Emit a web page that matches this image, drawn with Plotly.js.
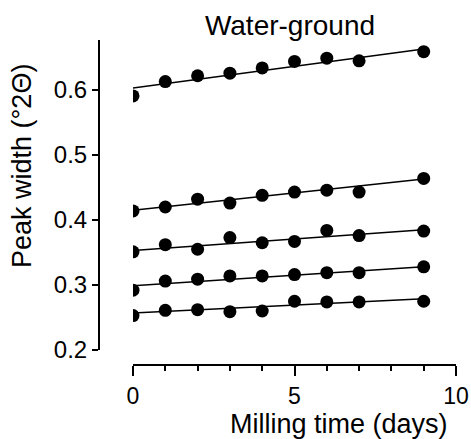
<!DOCTYPE html>
<html>
<head>
<meta charset="utf-8">
<script src="https://cdn.plot.ly/plotly-3.0.1.min.js"></script>
<style>html,body{margin:0;padding:0;background:#fff;}#chart{width:471px;height:439px;}</style>
</head>
<body>
<div id="chart"></div>
<script>
const days = [0, 1, 2, 3, 4, 5, 6, 7, 9];
const series1 = [0.591, 0.613, 0.622, 0.626, 0.634, 0.644, 0.649, 0.645, 0.659];
const series2 = [0.414, 0.420, 0.432, 0.426, 0.438, 0.443, 0.446, 0.443, 0.464];
const series3 = [0.351, 0.362, 0.355, 0.373, 0.365, 0.367, 0.384, 0.376, 0.383];
const series4 = [0.292, 0.306, 0.309, 0.314, 0.314, 0.316, 0.319, 0.319, 0.328];
const series5 = [0.253, 0.261, 0.262, 0.259, 0.260, 0.275, 0.274, 0.274, 0.275];
const fitX = [0, 9];
const fit1 = [0.603, 0.663];
const fit2 = [0.415, 0.463];
const fit3 = [0.353, 0.385];
const fit4 = [0.299, 0.328];
const fit5 = [0.257, 0.279];
const yTicks = [0.2, 0.3, 0.4, 0.5, 0.6];
const yTickText = ['0.2', '0.3', '0.4', '0.5', '0.6'];
const xTicks = [0, 5, 10];
const xTickText = ['0', '5', '10'];

const allSeries = [series1, series2, series3, series4, series5];
const allFits = [fit1, fit2, fit3, fit4, fit5];
const traces = [];
allFits.forEach(f => traces.push({x: fitX, y: f, mode: 'lines', line: {color: '#000', width: 1.5}, hoverinfo: 'skip'}));
allSeries.forEach(s => traces.push({x: days, y: s, mode: 'markers', marker: {color: '#000', size: 13}}));

const font = 'Liberation Sans, Arial, Helvetica, sans-serif';
const layout = {
  width: 471, height: 439,
  margin: {l: 99, r: 15, t: 40, b: 74},
  paper_bgcolor: '#fff', plot_bgcolor: '#fff',
  showlegend: false,
  font: {family: font, color: '#000'},
  title: {text: 'Water-ground', font: {size: 28, color: '#000', family: font}, x: 0.535, xref: 'paper', xanchor: 'center', y: 1 - 25/439, yref: 'container', yanchor: 'middle'},
  xaxis: {
    range: [0, 10], domain: [34/357, 1], anchor: 'free', position: 0,
    showgrid: false, zeroline: false, showline: true, linecolor: '#000', linewidth: 2,
    ticks: 'outside', tickvals: xTicks, ticktext: xTickText, ticklen: 10, tickwidth: 2, tickcolor: '#000',
    minor: {dtick: 1, ticks: 'outside', ticklen: 5, tickwidth: 2, tickcolor: '#000', showgrid: false},
    tickfont: {size: 23, family: font, color: '#000'}
  },
  yaxis: {
    range: [0.2, 0.677], domain: [15/325, 1], anchor: 'free', position: 0,
    showgrid: false, zeroline: false, showline: true, linecolor: '#000', linewidth: 2,
    ticks: 'outside', tickvals: yTicks, ticktext: yTickText, ticklen: 6, tickwidth: 2, tickcolor: '#000',
    tickfont: {size: 24, family: font, color: '#000'}
  },
  annotations: [
    {text: 'Milling time (days)', xref: 'x', yref: 'paper', x: 6.39, y: (365-440)/325, xanchor: 'center', yanchor: 'bottom', borderpad: 0, showarrow: false, font: {size: 27, family: font, color: '#000'}},
    {text: 'Peak width (°2Θ)', xref: 'paper', yref: 'paper', x: (22-99)/357, y: (365-166)/325, xanchor: 'center', yanchor: 'middle', textangle: -90, showarrow: false, font: {size: 27, family: font, color: '#000'}}
  ]
};
Plotly.newPlot('chart', traces, layout, {displayModeBar: false, staticPlot: true});
</script>
</body>
</html>
